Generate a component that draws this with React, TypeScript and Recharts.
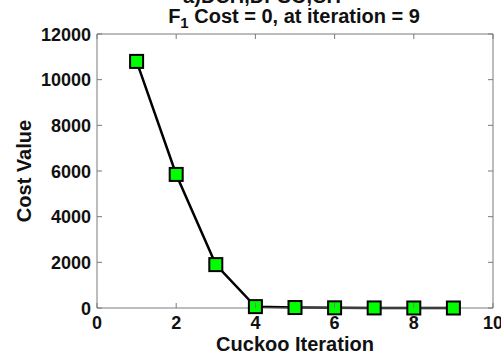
import { LineChart, Line, XAxis, YAxis } from 'recharts';

const iterations = [1, 2, 3, 4, 5, 6, 7, 8, 9];
const costValues = [10800, 5850, 1900, 60, 20, 8, 3, 1, 0];
const xTicks = [0, 2, 4, 6, 8, 10];
const yTicks = [0, 2000, 4000, 6000, 8000, 10000, 12000];

const data = iterations.map((it, i) => ({ it, cost: costValues[i] }));

const AXIS = '#7a7a7a';
const FONT = '"Liberation Sans", Arial, sans-serif';

const XTick = (props: any) => {
  const { x, y, payload } = props;
  return (
    <g>
      <line x1={x} y1={y} x2={x} y2={y - 5} stroke={AXIS} />
      <text x={x} y={y + 21} textAnchor="middle" fontSize={18} fontWeight="bold" fontFamily={FONT} fill="#111">
        {payload.value}
      </text>
    </g>
  );
};

const YTick = (props: any) => {
  const { x, y, payload } = props;
  return (
    <g>
      <line x1={x} y1={y} x2={x + 5} y2={y} stroke={AXIS} />
      <text x={x - 6} y={y + 6.5} textAnchor="end" fontSize={18} fontWeight="bold" fontFamily={FONT} fill="#111">
        {payload.value}
      </text>
    </g>
  );
};

const TopTick = (props: any) => {
  const { x, y } = props;
  return <line x1={x} y1={y} x2={x} y2={y + 5} stroke={AXIS} />;
};

const RightTick = (props: any) => {
  const { x, y } = props;
  return <line x1={x} y1={y} x2={x - 5} y2={y} stroke={AXIS} />;
};

const Marker = (props: any) => {
  const { cx, cy, index } = props;
  return (
    <rect key={index} x={cx - 6.5} y={cy - 6.5} width={13} height={13} fill="#00ff00" stroke="#000" strokeWidth={2} />
  );
};

export default function App() {
  return (
    <div style={{ position: 'absolute', left: 0, top: 0, width: 501, height: 357, background: '#fff' }}>
      <LineChart width={501} height={357} data={data} margin={{ top: 33, right: 7, bottom: 0, left: 0 }}>
        <XAxis
          dataKey="it"
          type="number"
          domain={[0, 10]}
          ticks={xTicks}
          height={49}
          stroke={AXIS}
          tickLine={false}
          tickSize={0}
          tickMargin={0}
          tick={<XTick />}
          label={{
            content: (p: any) => (
              <text
                x={p.viewBox.x + p.viewBox.width / 2}
                y={p.viewBox.y + 43}
                textAnchor="middle"
                fontSize={20}
                fontWeight="bold"
                fontFamily={FONT}
                fill="#111"
              >
                Cuckoo Iteration
              </text>
            ),
          }}
        />
        <XAxis
          xAxisId="top"
          orientation="top"
          dataKey="it"
          type="number"
          domain={[0, 10]}
          ticks={xTicks}
          height={1}
          stroke={AXIS}
          tickLine={false}
          tickSize={0}
          tickMargin={0}
          tick={<TopTick />}
        />
        <YAxis
          type="number"
          domain={[0, 12000]}
          ticks={yTicks}
          width={97}
          stroke={AXIS}
          tickLine={false}
          tickSize={0}
          tickMargin={0}
          tick={<YTick />}
          label={{
            content: (p: any) => {
              const cx = p.viewBox.x + 24;
              const cy = p.viewBox.y + p.viewBox.height / 2;
              return (
                <text
                  x={cx}
                  y={cy}
                  transform={`rotate(-90 ${cx} ${cy})`}
                  textAnchor="middle"
                  dominantBaseline="central"
                  fontSize={20}
                  fontWeight="bold"
                  fontFamily={FONT}
                  fill="#111"
                >
                  Cost Value
                </text>
              );
            },
          }}
        />
        <YAxis
          yAxisId="right"
          orientation="right"
          type="number"
          domain={[0, 12000]}
          ticks={yTicks}
          width={1}
          stroke={AXIS}
          tickLine={false}
          tickSize={0}
          tickMargin={0}
          tick={<RightTick />}
        />
        {/* invisible series so the box axes (top/right) get drawn */}
        <Line
          xAxisId="top"
          yAxisId="right"
          dataKey="cost"
          stroke="none"
          dot={false}
          activeDot={false}
          legendType="none"
          isAnimationActive={false}
        />
        <Line
          dataKey="cost"
          stroke="#000"
          strokeWidth={2.5}
          dot={<Marker />}
          activeDot={false}
          isAnimationActive={false}
        />
        <text x={262} y={3} textAnchor="middle" fontSize={20} fontWeight="bold" fontFamily={FONT} fill="#111">
          a)DCH,DPSO,CH
        </text>
        <text x={294} y={23} textAnchor="middle" fontSize={20} fontWeight="bold" fontFamily={FONT} fill="#111">
          F
          <tspan fontSize={15} dy={5}>1</tspan>
          <tspan dy={-5}> Cost = 0, at iteration = 9</tspan>
        </text>
      </LineChart>
    </div>
  );
}
